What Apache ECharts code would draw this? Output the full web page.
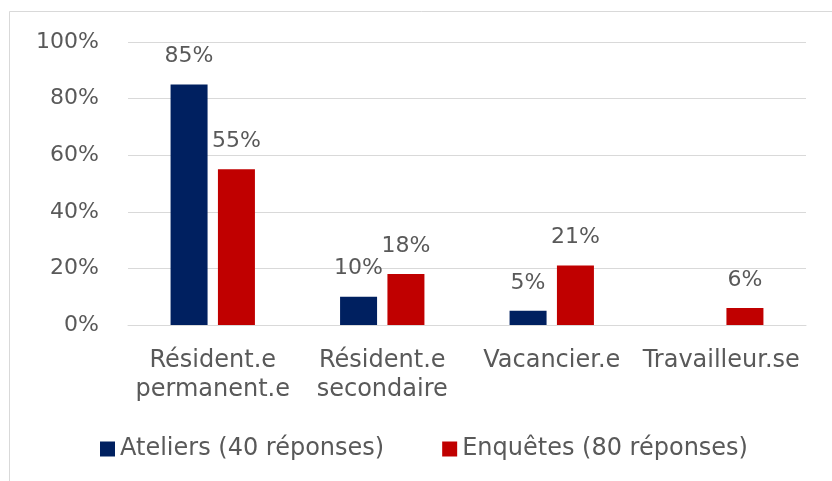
<!DOCTYPE html>
<html>
<head>
<meta charset="utf-8">
<script src="https://cdn.jsdelivr.net/npm/echarts@6/dist/echarts.min.js"></script>
<style>
  html, body { margin: 0; padding: 0; background: #fff; }
  #chart { width: 832px; height: 481px; }
</style>
</head>
<body>
<div id="chart"></div>
<script>
const categories = ['Résident.e\npermanent.e', 'Résident.e\nsecondaire', 'Vacancier.e', 'Travailleur.se'];
const ateliers = [85, 10, 5, null];
const enquetes = [55, 18, 21, 6];
const seriesNames = ['Ateliers (40 réponses)', 'Enquêtes (80 réponses)'];

const font = 'DejaVu Sans';
const textColor = '#595959';

const labelOpt = {
  show: true,
  position: 'top',
  distance: 17,
  color: textColor,
  fontFamily: font,
  fontSize: 22,
  formatter: p => p.value + '%'
};

const chart = echarts.init(document.getElementById('chart'));
chart.setOption({
  backgroundColor: '#fff',
  animation: false,
  graphic: [{
    type: 'rect',
    shape: { x: 9.5, y: 11.5, width: 900, height: 600 },
    style: { fill: 'none', stroke: '#d9d9d9', lineWidth: 1 }
  }],
  grid: { left: 128, right: 26, top: 42, bottom: 156, outerBoundsMode: 'none' },
  legend: {
    left: 95,
    top: 432,
    itemWidth: 15,
    itemHeight: 15,
    itemGap: 58,
    icon: 'rect',
    textStyle: { color: textColor, fontFamily: font, fontSize: 24 },
    data: seriesNames
  },
  xAxis: {
    type: 'category',
    data: categories,
    axisTick: { show: false },
    axisLine: { lineStyle: { color: '#d9d9d9' } },
    axisLabel: {
      interval: 0,
      margin: 21,
      color: textColor,
      fontFamily: font,
      fontSize: 24,
      lineHeight: 29
    }
  },
  yAxis: {
    type: 'value',
    min: 0,
    max: 100,
    interval: 20,
    axisLine: { show: false },
    axisTick: { show: false },
    splitLine: { lineStyle: { color: '#d9d9d9' } },
    axisLabel: {
      margin: 29,
      color: textColor,
      fontFamily: font,
      fontSize: 22,
      formatter: '{value}%'
    }
  },
  series: [
    {
      name: seriesNames[0],
      type: 'bar',
      data: ateliers,
      barWidth: 37,
      barGap: '28%',
      itemStyle: { color: '#002060' },
      label: labelOpt
    },
    {
      name: seriesNames[1],
      type: 'bar',
      data: enquetes,
      barWidth: 37,
      itemStyle: { color: '#C00000' },
      label: labelOpt
    }
  ]
});
</script>
</body>
</html>
